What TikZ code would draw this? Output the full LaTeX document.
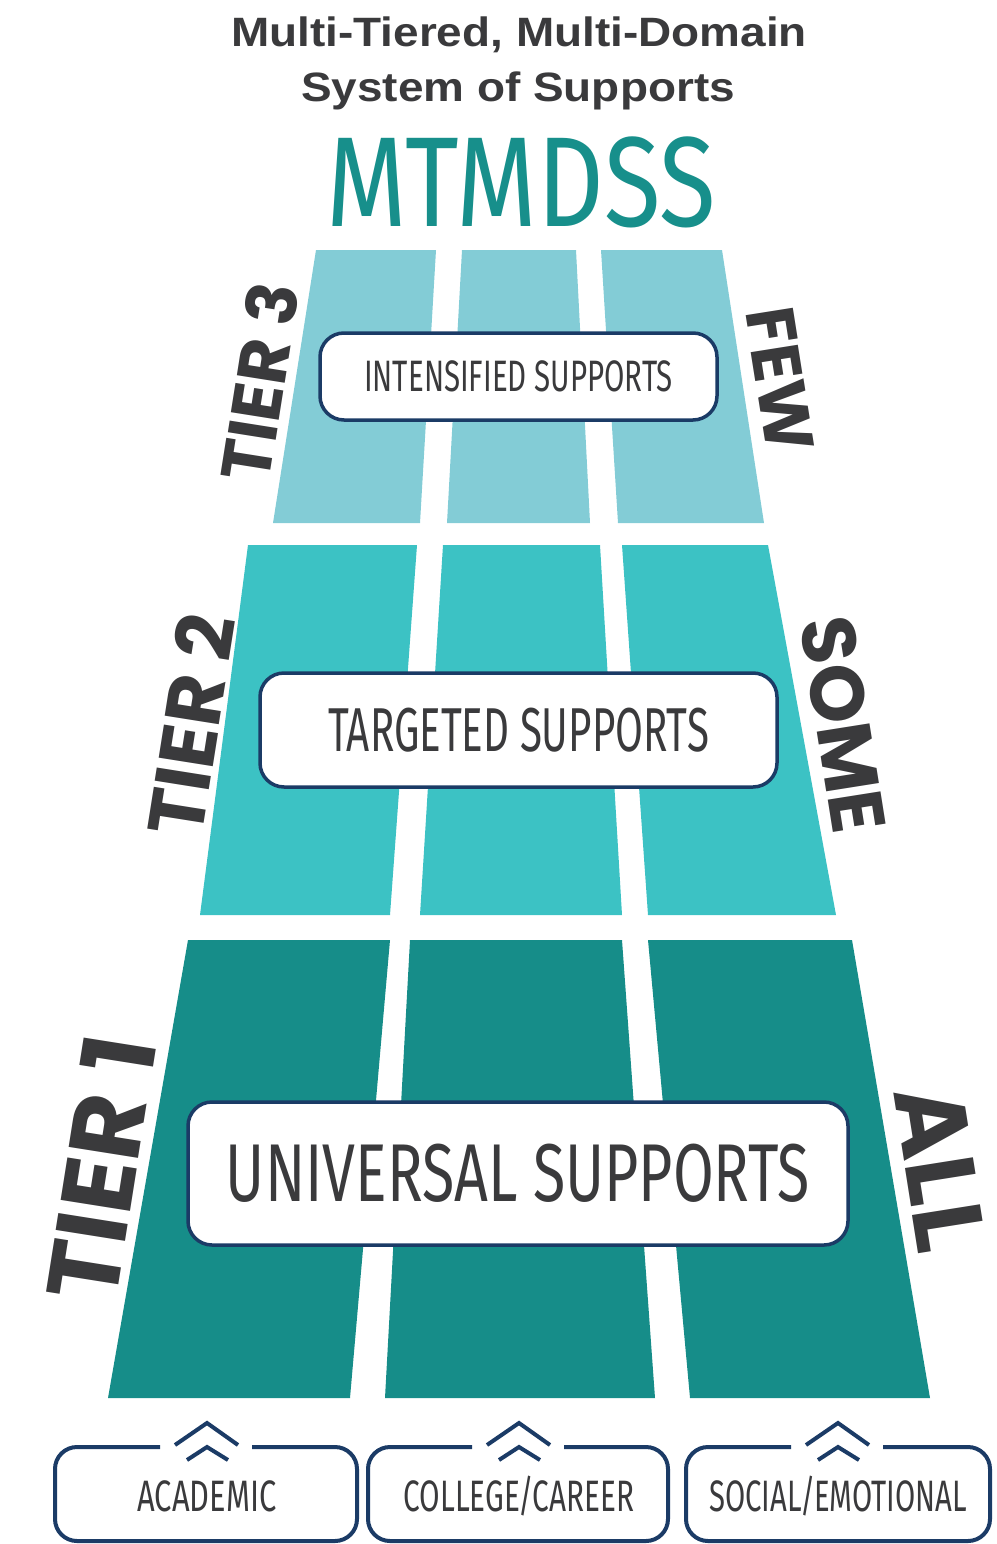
\documentclass[tikz,border=0pt]{standalone}
\usepackage{fontspec}
\usepackage{graphicx}
\setmainfont{Liberation Sans}
\newfontfamily\titlefont{Liberation Sans}
\newfontfamily\condfont{Fira Sans}
\newfontfamily\tierfont{Poppins}
\definecolor{tierthree}{HTML}{83CCD6}
\definecolor{tiertwo}{HTML}{3CC2C4}
\definecolor{tierone}{HTML}{168D89}
\definecolor{navy}{HTML}{1B3B66}
\definecolor{txtgray}{HTML}{3A3A3C}
\definecolor{mtteal}{HTML}{178F8B}
\tikzset{
  supbox/.style={draw=navy, line width=3.5pt, fill=white, rounded corners=24pt, inner sep=0pt},
  sidelabel/.style={text=txtgray, font=\tierfont\bfseries, inner sep=0pt},
  domframe/.style={draw=navy, line width=4pt, rounded corners=22pt},
  chev/.style={draw=navy, line width=4pt},
  domtext/.style={text=txtgray, inner sep=0pt}
}
\begin{document}
\begin{tikzpicture}[x=1pt,y=-1pt]
\useasboundingbox (0,0) rectangle (996,1544);
% title
\node[text=txtgray, inner sep=0pt] (t1) at (519,35) {\scalebox{1.12}[1]{\titlefont\bfseries\fontsize{41}{41}\selectfont Multi-Tiered, Multi-Domain}};
\node[text=txtgray, inner sep=0pt] (t2) at (518,91) {\scalebox{1.12}[1]{\titlefont\bfseries\fontsize{41}{41}\selectfont System of Supports}};
\node[text=mtteal, inner sep=0pt] (mt) at (521,182) {\scalebox{0.81}[1]{\condfont\fontsize{128}{128}\selectfont MTMDSS}};
% tier 3
\fill[tierthree] (316,250) -- (436,250) -- (420,523) -- (273,523) -- cycle;
\fill[tierthree] (462,250) -- (576,250) -- (590,523) -- (447,523) -- cycle;
\fill[tierthree] (601,250) -- (722,250) -- (764,523) -- (618,523) -- cycle;
% tier 2
\fill[tiertwo] (248,545) -- (417,545) -- (390,915) -- (200,915) -- cycle;
\fill[tiertwo] (443,545) -- (600,545) -- (622,915) -- (420,915) -- cycle;
\fill[tiertwo] (622,545) -- (768,545) -- (836,915) -- (648,915) -- cycle;
% tier 1
\fill[tierone] (188,940) -- (390,940) -- (350,1398) -- (108,1398) -- cycle;
\fill[tierone] (410,940) -- (622,940) -- (655,1398) -- (385,1398) -- cycle;
\fill[tierone] (648,940) -- (852,940) -- (930,1398) -- (690,1398) -- cycle;
% support boxes
\node[supbox, minimum width=397pt, minimum height=87pt] (b3) at (518.5,376.5) {\scalebox{0.67}[1]{\condfont\color{txtgray}\fontsize{44}{44}\selectfont INTENSIFIED SUPPORTS}};
\node[supbox, minimum width=517pt, minimum height=114pt] (b2) at (518.5,730) {\scalebox{0.65}[1]{\condfont\color{txtgray}\fontsize{62}{62}\selectfont TARGETED SUPPORTS}};
\node[supbox, minimum width=660pt, minimum height=143pt] (b1) at (518,1173.5) {\scalebox{0.72}[1]{\condfont\color{txtgray}\fontsize{82}{82}\selectfont UNIVERSAL SUPPORTS}};
% side labels
\node[sidelabel, rotate=81] (l3) at (259,382) {\fontsize{69}{69}\selectfont TIER 3};
\node[sidelabel, rotate=81] (l2) at (190,725) {\fontsize{78}{78}\selectfont TIER 2};
\node[sidelabel, rotate=81] (l1) at (100,1168) {\fontsize{100}{100}\selectfont TIER 1};
\node[sidelabel, rotate=-81] (r3) at (780,380) {\fontsize{68}{68}\selectfont FEW};
\node[sidelabel, rotate=-81] (r2) at (843,725) {\fontsize{76}{76}\selectfont SOME};
\node[sidelabel, rotate=-81] (r1) at (940,1168) {\fontsize{98}{98}\selectfont ALL};
% domain boxes
\foreach \cx/\lx/\rx/\nm/\sc/\lab in {207/55/357/dA/0.70/{ACADEMIC}, 519/368/668/dB/0.675/{COLLEGE\kern-2pt/\kern-2pt CAREER}, 838/686/990/dC/0.665/{SOCIAL\kern-2pt/\kern-2pt EMOTIONAL}}{
  \draw[domframe] (\cx-47,1447) -- (\lx,1447) -- (\lx,1541) -- (\rx,1541) -- (\rx,1447) -- (\cx+45,1447);
  \draw[chev] (\cx-32,1445) -- (\cx,1423) -- (\cx+31,1445);
  \draw[chev] (\cx-20,1460) -- (\cx,1447) -- (\cx+21,1460);
  \node[domtext] (\nm) at (\cx,1496) {\scalebox{\sc}[1]{\condfont\fontsize{44}{44}\selectfont \lab}};
}
\end{tikzpicture}
\end{document}
